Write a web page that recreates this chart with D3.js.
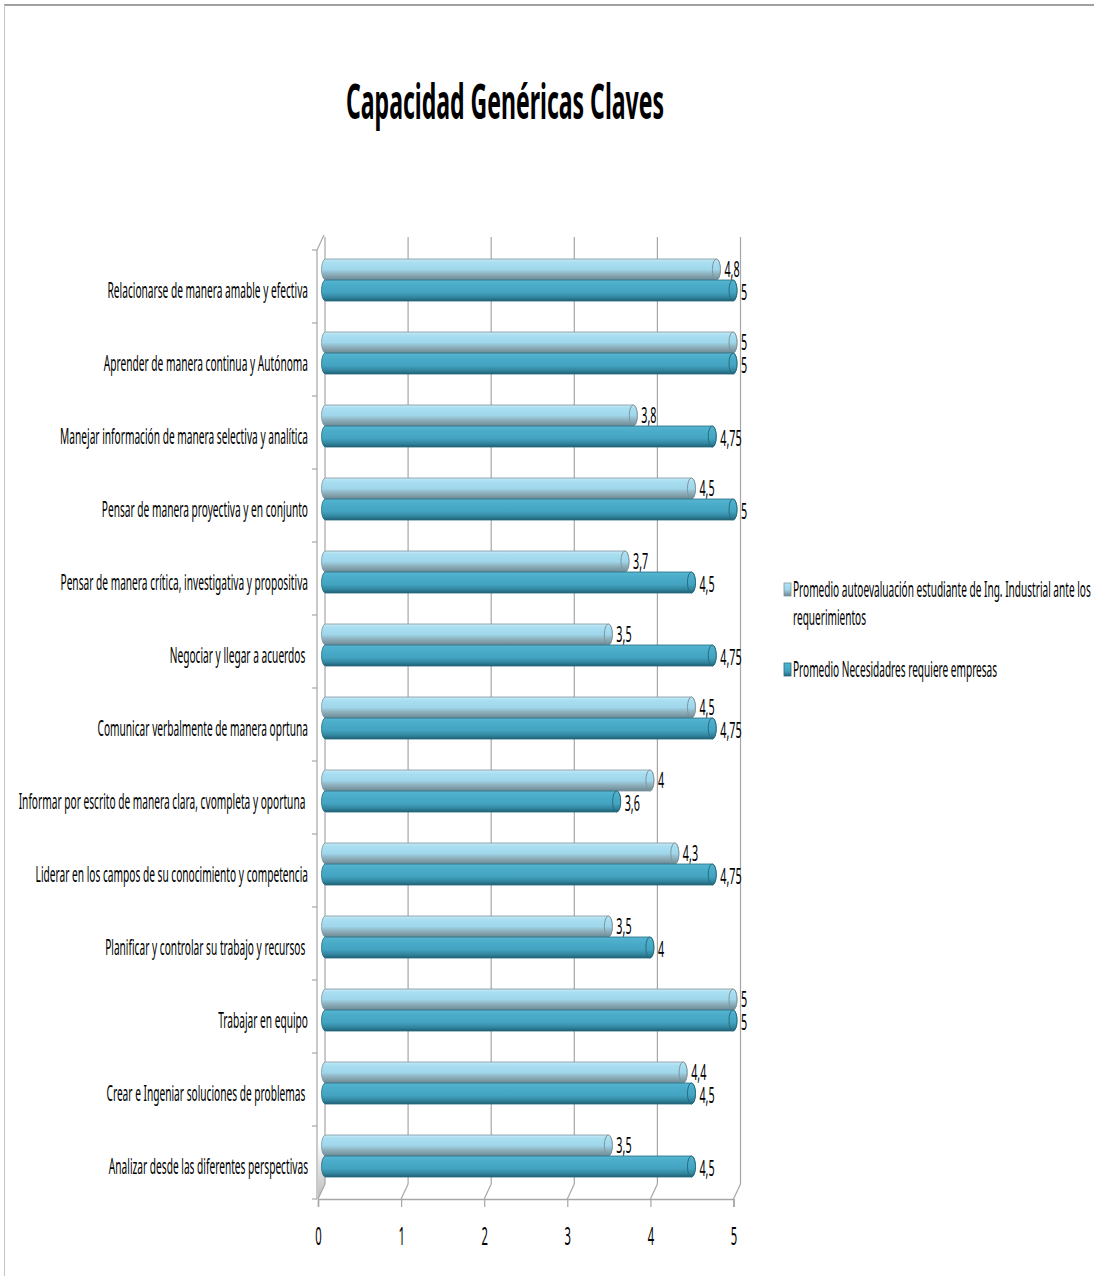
<!DOCTYPE html>
<html>
<head>
<meta charset="utf-8">
<script src="https://cdn.jsdelivr.net/npm/d3@7"></script>
<style>
  html, body { margin: 0; padding: 0; background: #fff; }
  svg text { font-family: "Noto Sans", sans-serif; white-space: pre; }
</style>
</head>
<body>
<svg id="chart" width="1094" height="1276"></svg>
<script>
const categories = [
  "Relacionarse de manera amable y efectiva",
  "Aprender de manera continua y Autónoma",
  "Manejar información de manera selectiva y analítica",
  "Pensar de manera proyectiva y en conjunto",
  "Pensar de manera crítica, investigativa y propositiva",
  "Negociar y llegar a acuerdos ",
  "Comunicar verbalmente de manera oprtuna",
  "Informar por escrito de manera clara, cvompleta y oportuna ",
  "Liderar en los campos de su conocimiento y competencia",
  "Planificar y controlar su trabajo y recursos ",
  "Trabajar en equipo",
  "Crear e Ingeniar soluciones de problemas ",
  "Analizar desde las diferentes perspectivas"
];
const autoevaluacion = [4.8, 5, 3.8, 4.5, 3.7, 3.5, 4.5, 4, 4.3, 3.5, 5, 4.4, 3.5];
const empresas = [5, 5, 4.75, 5, 4.5, 4.75, 4.75, 3.6, 4.75, 4, 5, 4.5, 4.5];
const seriesNames = [
  ["Promedio autoevaluación estudiante de Ing. Industrial ante los", "requerimientos"],
  ["Promedio Necesidadres requiere empresas"]
];
const xTicks = [0, 1, 2, 3, 4, 5];
const title = "Capacidad Genéricas Claves";

const svg = d3.select("#chart");

// defs: gradients
const defs = svg.append("defs");
function grad(id, stops) {
  const g = defs.append("linearGradient").attr("id", id)
    .attr("x1", 0).attr("y1", 0).attr("x2", 0).attr("y2", 1);
  stops.forEach(s => g.append("stop").attr("offset", s[0]).attr("stop-color", s[1]));
}
grad("gLight", [[0, "#c9eaf6"], [0.15, "#aadff2"], [0.5, "#9fd6ea"], [0.72, "#8eb0bc"], [1, "#6c8995"]]);
grad("gDark", [[0, "#58b6d0"], [0.2, "#4caecb"], [0.6, "#43a3c0"], [0.85, "#30829b"], [1, "#1f5e71"]]);
grad("gWall", [[0, "#ffffff"], [0.94, "#ffffff"], [1, "#bdbdbd"]]);

// Border
svg.append("line").attr("x1", 4).attr("x2", 1094).attr("y1", 5).attr("y2", 5)
  .attr("stroke", "#a0a0a0").attr("stroke-width", 2);
svg.append("line").attr("x1", 4.5).attr("x2", 4.5).attr("y1", 5).attr("y2", 1276)
  .attr("stroke", "#c4c4c4").attr("stroke-width", 1);

function sqText(g, x, y, str, anchor, size, sx, weight) {
  return g.append("text")
    .attr("transform", `translate(${x},${y}) scale(${sx},1)`)
    .attr("text-anchor", anchor)
    .attr("font-size", size)
    .attr("font-weight", weight || "normal")
    .attr("fill", "#000")
    .text(str);
}

// Title
sqText(svg, 505, 119, title, "middle", 48, 0.48, "bold");

// Scales
const xFront = d3.scaleLinear().domain([0, 5]).range([318, 733.5]);
const depthX = 7, depthY = -15;
const xBar = v => xFront(v) + depthX / 2;
const y = d3.scaleBand().domain(categories).range([250, 1199]);
const inner = d3.scaleBand().domain([0, 1]).range([9, 51]);

const plotTop = 237, floorY = 1199;

// Left wall shading
svg.append("polygon")
  .attr("points", [[318, 250], [318 + depthX, 250 + depthY], [318 + depthX, floorY + depthY], [318, floorY]].map(p => p.join(",")).join(" "))
  .attr("fill", "url(#gWall)");

// Back gridlines + floor slants
const gGrid = svg.append("g");
xTicks.forEach(t => {
  const xf = xFront(t);
  gGrid.append("line").attr("x1", xf + depthX).attr("x2", xf + depthX)
    .attr("y1", plotTop).attr("y2", floorY + depthY)
    .attr("stroke", "#a6a6a6").attr("stroke-width", 1.2);
  gGrid.append("line").attr("x1", xf + depthX).attr("x2", xf)
    .attr("y1", floorY + depthY).attr("y2", floorY)
    .attr("stroke", "#a6a6a6").attr("stroke-width", 1.2);
});

// Left axis
const gLeft = svg.append("g");
gLeft.append("line").attr("x1", 317).attr("x2", 317).attr("y1", 250).attr("y2", floorY)
  .attr("stroke", "#a6a6a6").attr("stroke-width", 1.2);
gLeft.append("line").attr("x1", 317).attr("x2", 317 + depthX).attr("y1", 250).attr("y2", 250 + depthY)
  .attr("stroke", "#a6a6a6").attr("stroke-width", 1.2);
categories.concat([null]).forEach(c => {
  const yy = c === null ? floorY : y(c);
  gLeft.append("line").attr("x1", 312).attr("x2", 317).attr("y1", yy).attr("y2", yy)
    .attr("stroke", "#a6a6a6").attr("stroke-width", 1.2);
});

// Bottom axis
const axisG = svg.append("g").attr("transform", `translate(0,${floorY})`)
  .call(d3.axisBottom(xFront).tickValues(xTicks).tickSize(8).tickFormat(d3.format("d")));
axisG.select(".domain").attr("stroke", "#a6a6a6").attr("stroke-width", 1.5);
axisG.selectAll(".tick line").attr("stroke", "#a6a6a6").attr("stroke-width", 1.2);
axisG.selectAll(".tick text").remove();
axisG.selectAll(".tick").each(function(d) {
  sqText(d3.select(this), 0, 46, String(d), "middle", 25, 0.45);
});

// Bars
const fmt = v => String(v).replace(".", ",");
const seriesData = [autoevaluacion, empresas];
const fills = ["url(#gLight)", "url(#gDark)"];
const strokes = ["#7e959e", "#256c80"];
const labelDy = [7, 9];
const gBars = svg.append("g");
categories.forEach((c, i) => {
  seriesData.forEach((s, k) => {
    const v = s[i];
    const top = y(c) + inner(k);
    const h = inner.bandwidth();
    const x0 = xBar(0), x1 = xBar(v);
    const rx = 4;
    gBars.append("rect")
      .attr("x", x0).attr("y", top).attr("width", x1 - x0).attr("height", h)
      .attr("rx", rx).attr("ry", h / 2)
      .attr("fill", fills[k]).attr("stroke", strokes[k]).attr("stroke-width", 0.8);
    gBars.append("ellipse")
      .attr("cx", x1 - rx).attr("cy", top + h / 2).attr("rx", rx).attr("ry", h / 2)
      .attr("fill", fills[k]).attr("stroke", strokes[k]).attr("stroke-width", 1);
    sqText(gBars, x1 + 4, top + h / 2 + labelDy[k], fmt(v), "start", 22, 0.49);
  });
});

// Category labels
const gCat = svg.append("g");
categories.forEach(c => {
  sqText(gCat, 308, y(c) + y.bandwidth() / 2 + 11, c, "end", 22, 0.462);
});

// Legend
const gLeg = svg.append("g");
const legY = [590, 670];
seriesNames.forEach((lines, k) => {
  gLeg.append("rect").attr("x", 784).attr("y", legY[k] - 7).attr("width", 7).attr("height", 13)
    .attr("fill", fills[k]).attr("stroke", strokes[k]).attr("stroke-width", 0.8);
  lines.forEach((ln, j) => {
    sqText(gLeg, 793, legY[k] + 7 + j * 28, ln, "start", 21, 0.48);
  });
});
</script>
</body>
</html>
